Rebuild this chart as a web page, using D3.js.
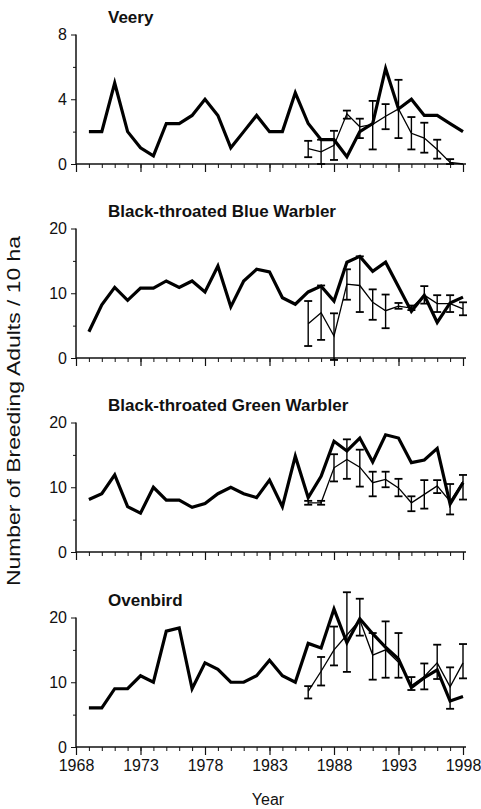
<!DOCTYPE html>
<html><head><meta charset="utf-8">
<script src="https://cdn.jsdelivr.net/npm/d3@7"></script>
<style>
html,body{margin:0;padding:0;background:#fff;}
svg{display:block;}
text{font-family:"Liberation Sans",Arial,sans-serif;fill:#111;}
</style></head>
<body>
<div id="chart"></div>
<script>
// ---------- data ----------
const yearsAll = d3.range(1969, 1999);      // thick line: long-term census
const yearsPlot = d3.range(1986, 1999);     // thin line: plot means with error bars
const xTickLabels = [1968, 1973, 1978, 1983, 1988, 1993, 1998];
const speciesNames = ["Veery", "Black-throated Blue Warbler", "Black-throated Green Warbler", "Ovenbird"];
const yMaxes = [8, 20, 20, 20];

const veeryThick = [2,2,5,2,1,0.5,2.5,2.5,3,4,3,1,2,3,2,2,4.4,2.5,1.5,1.5,0.45,2,2.5,5.9,3.4,4,3,3,2.5,2];
const veeryThin  = [0.95,0.75,1.15,3.1,2.3,2.45,2.95,3.4,1.9,1.6,0.9,0.1,0];
const veeryLo    = [0.42,0,0.25,2.8,1.6,0.9,2.15,1.6,0.9,0.7,0.33,0,null];
const veeryHi    = [1.43,1.5,2.05,3.3,2.8,3.9,3.7,5.2,2.9,2.55,1.5,0.3,null];

const blueThick = [4.05,8.2,10.9,8.9,10.8,10.8,11.9,10.9,11.9,10.2,14.2,7.9,11.9,13.7,13.3,9.3,8.3,10.2,11.1,8.8,14.8,15.7,13.4,14.8,11,7.2,9.7,5.5,8.5,9.4];
const blueThin  = [5.3,7.0,3.4,11.4,11.2,8.6,7.3,8.0,7.7,9.7,8.4,8.4,7.6];
const blueLo    = [1.85,2.8,-0.3,9.0,7.1,5.9,4.6,7.6,7.4,8.4,7.1,7.1,6.6];
const blueHi    = [8.8,11.2,6.9,13.7,15.7,10.6,9.8,8.5,8.1,11.1,9.7,9.7,8.6];

const greenThick = [8.1,9.0,11.9,7.0,6.0,10.0,8.0,8.0,6.9,7.5,9.0,10.0,9.0,8.4,11.1,7.0,14.8,8.4,11.7,17.1,15.6,17.6,13.9,18.1,17.6,13.8,14.2,16.0,7.4,10.7];
const greenThin  = [7.6,7.6,13.0,14.3,13.1,10.7,11.2,9.9,7.6,8.9,10.2,7.8,10.9];
const greenLo    = [7.3,7.3,10.9,11.3,10.1,8.6,10.0,8.6,6.3,6.7,9.1,5.8,8.1];
const greenHi    = [7.9,7.9,15.1,17.4,15.8,12.4,12.4,11.3,8.6,11.1,11.1,10.5,11.9];

const ovenThick = [6.05,6.05,9,9,11,10,17.9,18.4,9,13,12,10,10,11,13.4,11,10,16,15.3,21.3,16.1,19.8,17.5,15.4,13.6,9.2,10.7,11.9,7.1,7.8];
const ovenThin  = [8.6,11.7,15.0,17.3,19.6,14.2,15.0,13.1,9.5,10.9,13.0,9.3,13.0];
const ovenLo    = [7.5,9.5,12.6,11.6,17.2,10.4,10.7,10.7,8.8,8.9,10.5,5.9,10.6];
const ovenHi    = [9.4,13.9,18.6,23.9,22.9,17.6,19.4,17.6,10.8,12.9,15.8,12.3,15.9];

const thickSeries = [veeryThick, blueThick, greenThick, ovenThick];
const thinSeries  = [veeryThin, blueThin, greenThin, ovenThin];
const loSeries    = [veeryLo, blueLo, greenLo, ovenLo];
const hiSeries    = [veeryHi, blueHi, greenHi, ovenHi];

// ---------- layout ----------
const W = 481, H = 809;
const svg = d3.select("#chart").append("svg").attr("width", W).attr("height", H);
const x = d3.scaleLinear().domain([1968, 1998]).range([76, 463]);
const panelBottoms = [164, 358, 552, 747];
const panelH = 129.5;

speciesNames.forEach((name, i) => {
  const yMax = yMaxes[i];
  const y = d3.scaleLinear().domain([0, yMax]).range([panelBottoms[i], panelBottoms[i] - panelH]);
  const g = svg.append("g");

  // x axis: minor ticks every year
  const xMinor = d3.axisBottom(x).tickValues(d3.range(1968, 1999)).tickSize(4).tickFormat("");
  const gxm = g.append("g").attr("transform", `translate(0,${panelBottoms[i]})`).call(xMinor);
  gxm.select(".domain").remove();
  gxm.selectAll("line").attr("stroke", "#111").attr("stroke-width", 1);
  // x axis: major ticks
  const xMajor = d3.axisBottom(x).tickValues(xTickLabels).tickSize(8).tickPadding(5)
     .tickFormat(i === 3 ? d3.format("d") : "");
  const gx = g.append("g").attr("transform", `translate(0,${panelBottoms[i]})`).call(xMajor);
  gx.select(".domain").remove();
  gx.selectAll("line").attr("stroke", "#111").attr("stroke-width", 1.2);
  gx.selectAll("text").style("font-size", "16px").style("font-family", '"Liberation Sans",Arial,sans-serif').attr("fill", "#111");
  g.append("line").attr("x1", x(1968)).attr("x2", x(1998) + 3)
    .attr("y1", panelBottoms[i]).attr("y2", panelBottoms[i])
    .attr("stroke", "#111").attr("stroke-width", 1.5);

  // y axis
  const yMajor = d3.axisLeft(y).tickValues([0, yMax / 2, yMax]).tickSize(5).tickPadding(4).tickFormat(d3.format("d"));
  const gy = g.append("g").attr("transform", `translate(${x(1968)},0)`).call(yMajor);
  gy.select(".domain").remove();
  gy.selectAll("line").attr("stroke", "#111").attr("stroke-width", 1);
  gy.selectAll("text").style("font-size", "16px").style("font-family", '"Liberation Sans",Arial,sans-serif').attr("fill", "#111");
  const yMinor = d3.axisLeft(y).tickValues([yMax / 4, yMax * 3 / 4]).tickSize(3).tickFormat("");
  const gym = g.append("g").attr("transform", `translate(${x(1968)},0)`).call(yMinor);
  gym.select(".domain").remove();
  gym.selectAll("line").attr("stroke", "#111");
  g.append("line").attr("x1", x(1968)).attr("x2", x(1968))
    .attr("y1", y(yMax)).attr("y2", panelBottoms[i])
    .attr("stroke", "#111").attr("stroke-width", 1.5);

  // title
  g.append("text").attr("x", 108).attr("y", y(yMax) - 12)
    .style("font-size", "17px").style("font-weight", "bold").text(name);

  // thick line
  const line = d3.line().x(d => x(d[0])).y(d => y(d[1]));
  g.append("path").datum(yearsAll.map((yr, k) => [yr, thickSeries[i][k]]))
    .attr("d", line).attr("fill", "none").attr("stroke", "#000")
    .attr("stroke-width", 3.2).attr("stroke-linejoin", "miter");

  // thin line
  g.append("path").datum(yearsPlot.map((yr, k) => [yr, thinSeries[i][k]]))
    .attr("d", line).attr("fill", "none").attr("stroke", "#000")
    .attr("stroke-width", 1.3);

  // error bars
  const cap = 4;
  yearsPlot.forEach((yr, k) => {
    const lo = loSeries[i][k], hi = hiSeries[i][k];
    if (lo == null || hi == null) return;
    const cx = x(yr);
    g.append("line").attr("x1", cx).attr("x2", cx).attr("y1", y(lo)).attr("y2", y(hi))
      .attr("stroke", "#000").attr("stroke-width", 1.4);
    [lo, hi].forEach(v => {
      g.append("line").attr("x1", cx - cap).attr("x2", cx + cap).attr("y1", y(v)).attr("y2", y(v))
        .attr("stroke", "#000").attr("stroke-width", 1.8);
    });
  });
});

// axis titles
svg.append("text").attr("transform", "translate(20,411) rotate(-90)")
  .attr("text-anchor", "middle").style("font-size", "18px")
  .attr("textLength", 350).attr("lengthAdjust", "spacingAndGlyphs")
  .text("Number of Breeding Adults / 10 ha");
svg.append("text").attr("x", 268).attr("y", 805).attr("text-anchor", "middle")
  .style("font-size", "16px").text("Year");
</script>
</body></html>
